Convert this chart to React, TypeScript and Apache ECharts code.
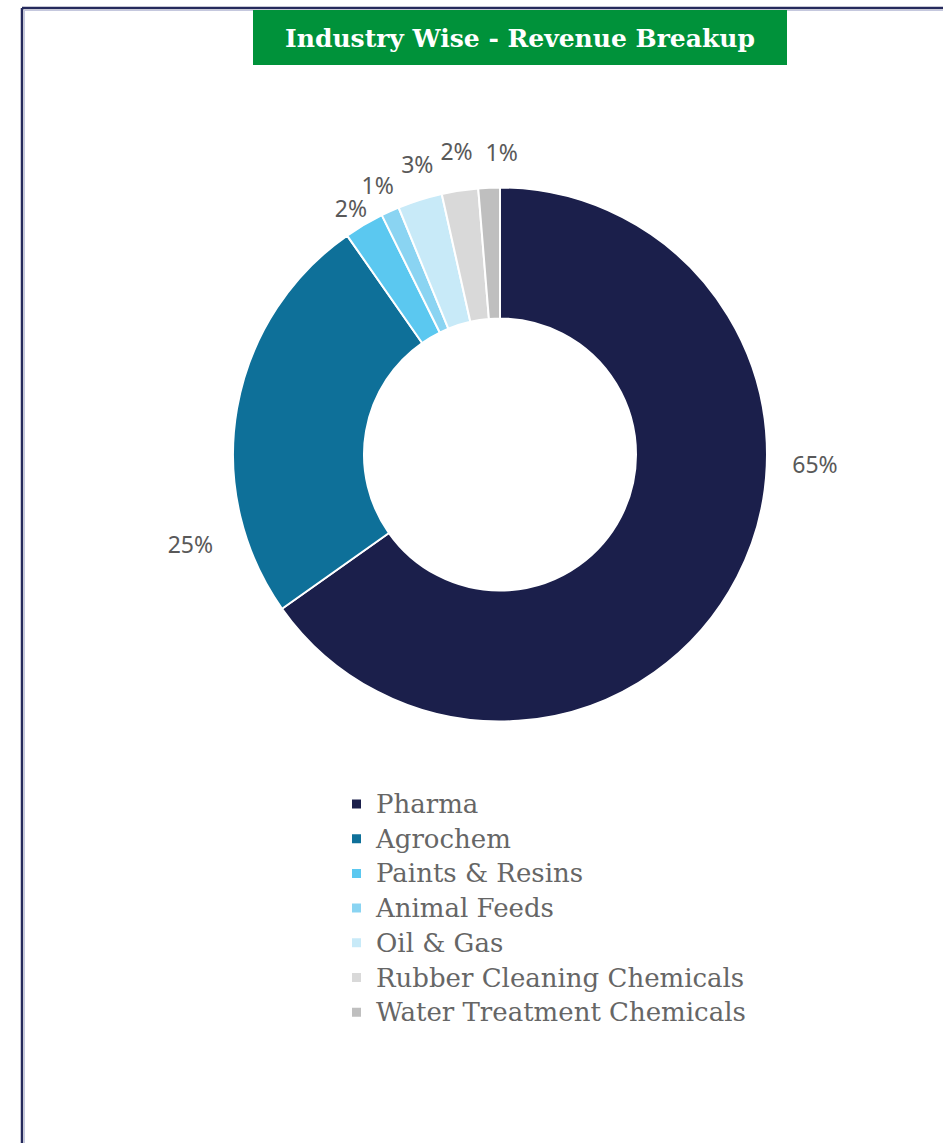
import React, { useEffect, useRef } from "react";
import * as echarts from "echarts";

const categories = [
  "Pharma",
  "Agrochem",
  "Paints & Resins",
  "Animal Feeds",
  "Oil & Gas",
  "Rubber Cleaning Chemicals",
  "Water Treatment Chemicals",
];
const shares = [65.2, 25.1, 2.4, 1.1, 2.7, 2.2, 1.3];
const colors = ["#1B1F4B", "#0E7099", "#5BC8F0", "#8AD4F2", "#C8EAF8", "#D9D9D9", "#BFBFBF"];
const titleText = "Industry Wise - Revenue Breakup";
// label nudges (style only)
const labelNudge: [number, number][] = [
  [43, -117],
  [-11, 137],
  [12, -10],
  [12, -19],
  [21, -28],
  [19, -32],
  [34, -28],
];

export default function App() {
  const ref = useRef<HTMLDivElement>(null);
  useEffect(() => {
    document.body.style.margin = "0";
    const chart = echarts.init(ref.current!, null, { renderer: "svg" });
    chart.setOption({
      animation: false,
      backgroundColor: "#ffffff",
      color: colors,
      graphic: [
        { type: "line", shape: { x1: 22, y1: 8, x2: 22, y2: 1143 }, style: { stroke: "#252A5C", lineWidth: 2.5 } },
        { type: "line", shape: { x1: 22, y1: 8, x2: 943, y2: 8 }, style: { stroke: "#252A5C", lineWidth: 2.5 } },
        { type: "line", shape: { x1: 24.5, y1: 10, x2: 24.5, y2: 1143 }, style: { stroke: "#C5C8DE", lineWidth: 1 } },
        { type: "line", shape: { x1: 24, y1: 10.5, x2: 943, y2: 10.5 }, style: { stroke: "#C5C8DE", lineWidth: 1 } },
        { type: "rect", shape: { x: 253, y: 10, width: 534, height: 55 }, style: { fill: "#00923A" } },
        {
          type: "text",
          x: 520,
          y: 38,
          style: {
            text: titleText,
            fill: "#ffffff",
            font: "bold 25px 'DejaVu Serif', serif",
            align: "center",
            verticalAlign: "middle",
          },
        },
      ],
      legend: {
        orient: "vertical",
        left: 350,
        top: 791,
        padding: 0,
        itemWidth: 11,
        itemHeight: 11,
        itemGap: 8.7,
        icon: "rect",
        textStyle: {
          fontFamily: "'DejaVu Serif', serif",
          fontSize: 26,
          lineHeight: 24,
          color: "#666666",
          padding: [0, 0, 0, 9],
        },
        data: categories,
      },
      series: [
        {
          type: "pie",
          center: [500, 454.5],
          radius: [136, 267],
          startAngle: 90,
          avoidLabelOverlap: false,
          itemStyle: { borderColor: "#ffffff", borderWidth: 2 },
          label: {
            show: true,
            position: "outside",
            formatter: (p: any) => Math.round(p.percent) + "%",
            fontFamily: "'Noto Sans', sans-serif",
            fontSize: 23,
            color: "#595959",
          },
          labelLine: { show: false, length: 8, length2: 0 },
          labelLayout: (p: any) => ({
            dx: labelNudge[p.dataIndex][0],
            dy: labelNudge[p.dataIndex][1],
            hideOverlap: false,
          }),
          emphasis: { disabled: true },
          data: categories.map((name, i) => ({ name, value: shares[i] })),
        },
      ],
    });
    return () => chart.dispose();
  }, []);
  return <div ref={ref} style={{ width: 943, height: 1143 }} />;
}
